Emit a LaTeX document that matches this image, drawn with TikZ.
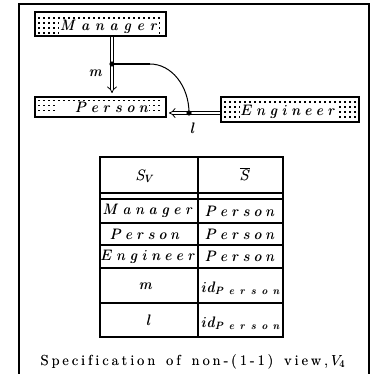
\RequirePackage{fix-cm}
\documentclass[tikz,border=0pt]{standalone}
\usetikzlibrary{arrows.meta,calc}
\ExplSyntaxOn
\NewDocumentCommand\ls{O{5pt}m}{
  \bool_set_false:N \l_tmpa_bool
  \tl_map_inline:nn {#2} { \bool_if:NT \l_tmpa_bool {\kern#1} ##1 \bool_set_true:N \l_tmpa_bool }
}
\ExplSyntaxOff
% slightly heavier rendering of a text, as in the reference
\newcommand\hv[1]{\rlap{#1}\kern0.45pt#1}
\newcommand\hvl[1]{\rlap{#1}\kern0.25pt#1}
\newcommand\mfont{\fontsize{15}{17}\selectfont}
\newcommand\cfont{\fontsize{14.5}{17}\selectfont}
\tikzset{
  ent/.style={draw, line width=1.8pt, fill=white, inner sep=0pt, rectangle},
  lbl/.style={fill=white, inner sep=0.6pt, font=\mfont},
  txt/.style={inner sep=0pt, font=\mfont},
  dbl/.style={double, double distance=2.6pt, line width=0.8pt, -{Implies}},
  tline/.style={line width=1.6pt},
  touter/.style={line width=2.2pt},
}
\newcommand\dotgrid[2]{%
  \foreach \x in {#1} {\foreach \y in {#2} {\fill (\x-0.8,\y-0.8) rectangle ++(1.6,1.6);}}}
\begin{document}
\begin{tikzpicture}[x=1pt,y=-1pt]
\useasboundingbox (0,0) rectangle (370,374);
\clip (0,0) rectangle (370,374);
% outer frame
\draw[line width=2pt] (19,385) -- (19,4) -- (369,4) -- (369,385);
% entity boxes
\node[ent, minimum width=131pt, minimum height=24pt] (man) at (100.5,24) {};
\node[ent, minimum width=131pt, minimum height=20pt] (per) at (100.5,107) {};
\node[ent, minimum width=138pt, minimum height=25pt] (eng) at (290,109.5) {};
\dotgrid{39,44,...,163}{18,23,28,33}
\dotgrid{39,44,...,163}{100.5,105.5,110.5}
\dotgrid{225,230,...,356}{102,107,112,117}
\node[lbl, anchor=base] (mant) at (109,31) {\hv{$\ls[6pt]{Manager}$}};
\node[lbl, anchor=base east] (pert) at (149.5,112.5) {\hspace{19pt}\hv{$\ls{Person}$}};
\node[lbl, anchor=base] (engt) at (288,116) {\hv{$\ls[4.6pt]{Engineer}$}};
% arrows
\coordinate (md) at (112,64);
\coordinate (mc) at (150,64);
\coordinate (ld) at (189,113);
\draw[dbl, shorten >=3pt] (man.south -| md) -- (per.north -| md);
\draw[dbl, shorten >=2pt] (eng.west |- ld) -- (per.east |- ld);
\draw[line width=1.5pt] (md) -- (mc);
\draw[line width=1pt] (mc) .. controls (171.5,64) and (189,86) .. (ld);
\fill (md) circle (2.6);
\fill (ld) circle (2.6);
\node[txt] (ml) at (96,73) {\hv{$m$}};
\node[txt] (ll) at (193,128) {\hv{$l$}};
% table
\draw[touter] (100,157) rectangle (283,337);
\draw[tline] (198,157) -- (198,337);
\foreach \yy in {193,199,223,245,268,303}
  \draw[tline] (100,\yy) -- (283,\yy);
\node[txt] (h1) at (145,176) {\hv{$S_V$}};
\node[txt] (h2) at (245,174) {\hv{$\overline{S}$}};
\node[txt] (a1) at (148,211) {\hv{$\ls[4.8pt]{Manager}$}};
\node[txt] (b1) at (240,211) {\hv{$\ls[4.3pt]{Person}$}};
\node[txt] (a2) at (145,234) {\hv{$\ls[4.3pt]{Person}$}};
\node[txt] (b2) at (240,234) {\hv{$\ls[4.3pt]{Person}$}};
\node[txt] (a3) at (148,256.5) {\hv{$\ls[4.6pt]{Engineer}$}};
\node[txt] (b3) at (240,256.5) {\hv{$\ls[4.3pt]{Person}$}};
\node[txt] (a4) at (146,286) {\hv{$m$}};
\node[txt] (b4) at (241,288) {\hv{$\ls[1pt]{id}_{\ls[6pt]{Person}}$}};
\node[txt] (a5) at (149,320) {\hv{$l$}};
\node[txt] (b5) at (241,323) {\hv{$\ls[1pt]{id}_{\ls[6pt]{Person}}$}};
% caption
\node[inner sep=0pt, font=\cfont, anchor=base] (cap) at (193,365) {\hvl{\ls[3pt]{Specification}\hspace{11pt}\ls[3pt]{of}\hspace{11pt}\ls[3pt]{non-(1-1)}\hspace{11pt}\ls[3pt]{view,}\kern3pt$V_4$}};
\end{tikzpicture}
\end{document}
